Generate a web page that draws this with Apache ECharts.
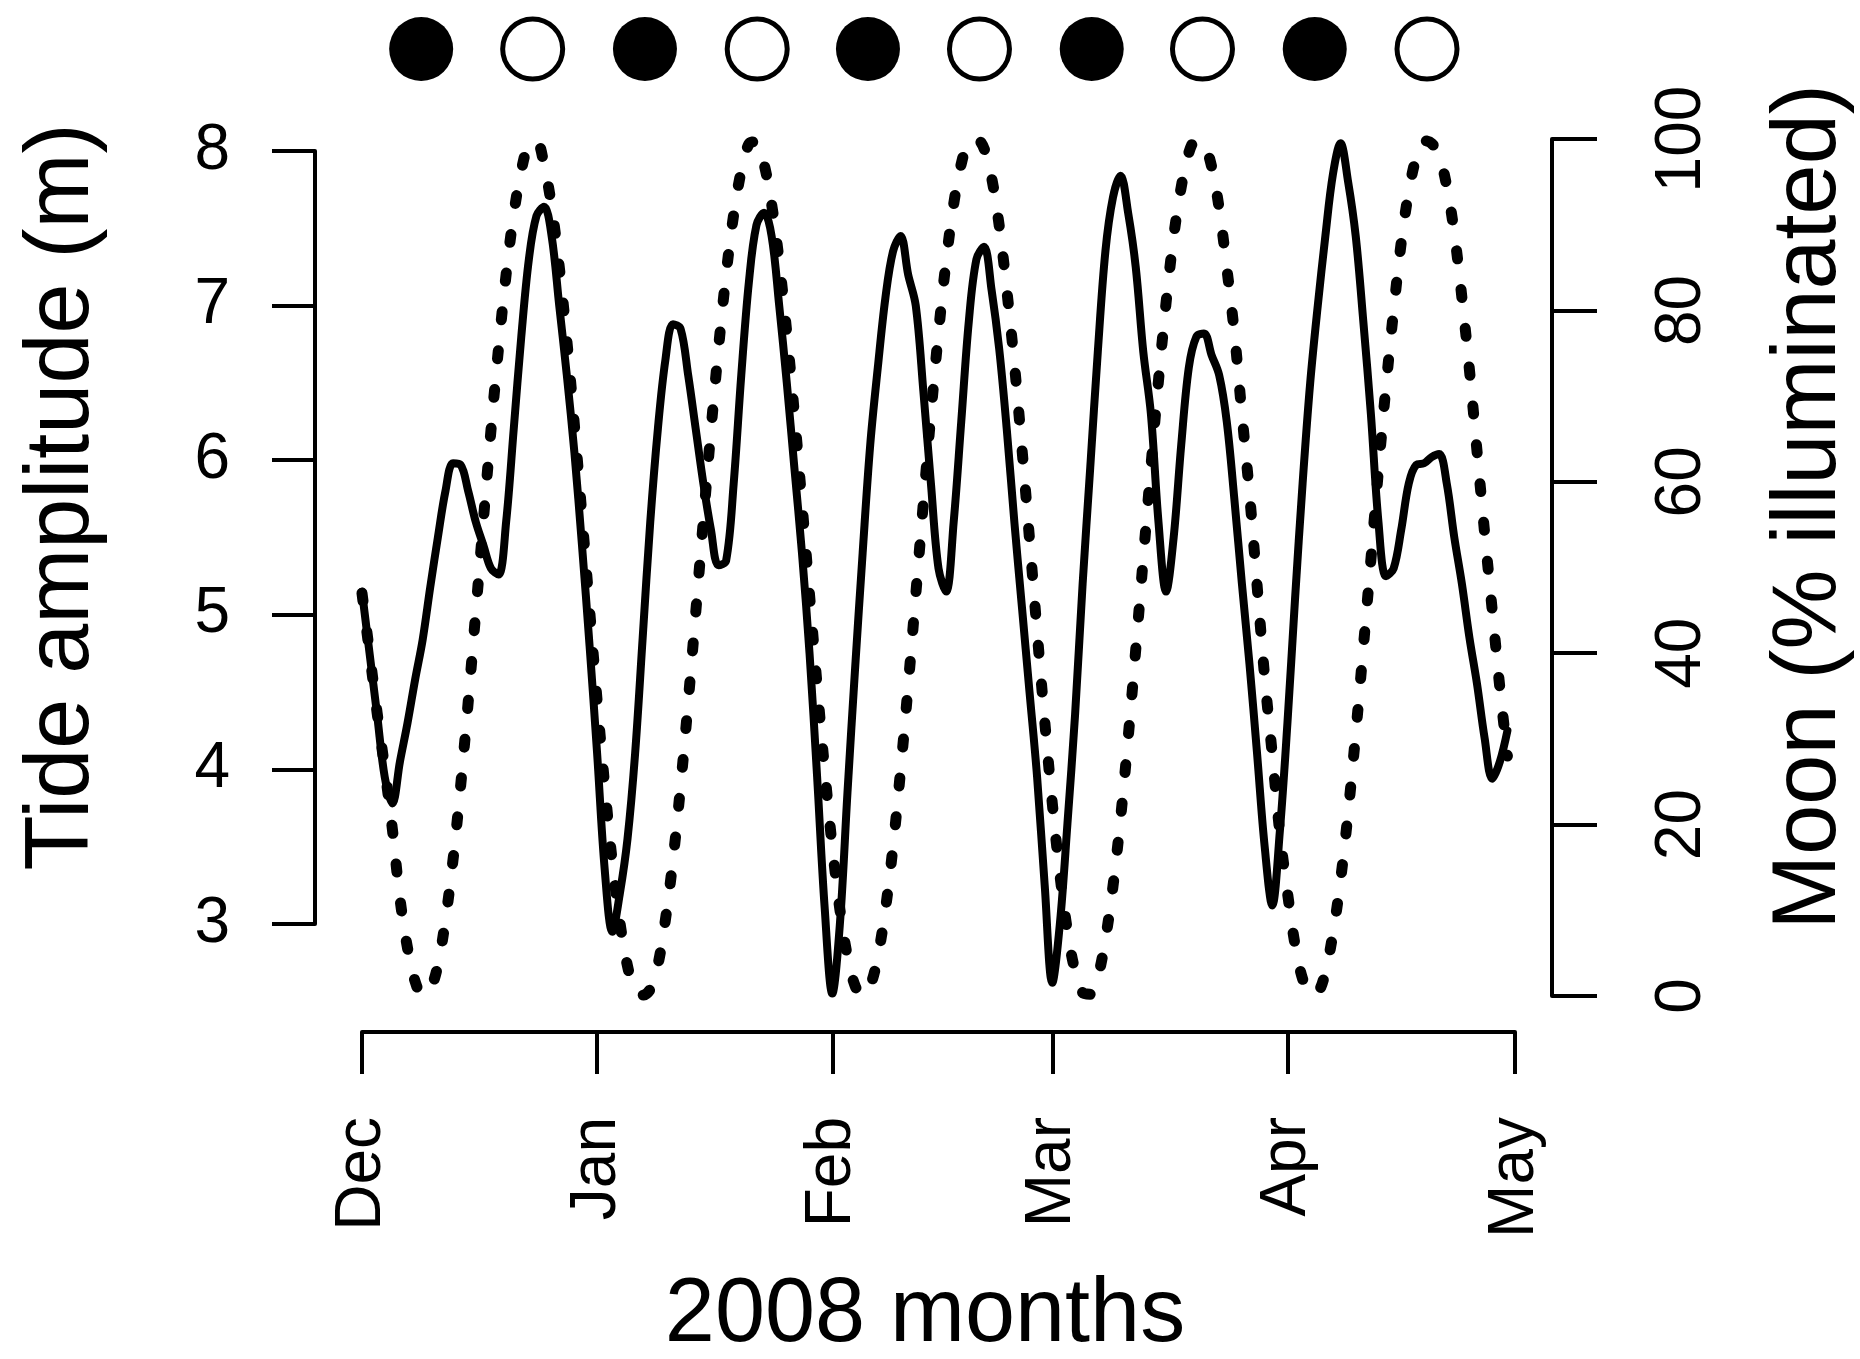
<!DOCTYPE html>
<html>
<head>
<meta charset="utf-8">
<title>Tide amplitude and moon</title>
<script src="https://cdn.jsdelivr.net/npm/echarts@6.0.0/dist/echarts.min.js"></script>
<style>
  html, body { margin: 0; padding: 0; background: #fff; }
  #chart { width: 1860px; height: 1359px; }
</style>
</head>
<body>
<div id="chart"></div>
<script>
// days counted from 1 Dec 2007 (day 0) to 30 Apr 2008 (day 151)
var monthStarts = [0, 31, 62, 91, 122, 152];
var monthNames = ['Dec', 'Jan', 'Feb', 'Mar', 'Apr', 'May'];

// tide amplitude (m), one value per day
var tide = [
  5.15, 4.75, 4.35, 3.95, 3.78, 4.05, 4.3, 4.58, 4.84, 5.18,
  5.5, 5.8, 5.98, 5.97, 5.8, 5.6, 5.45, 5.3, 5.26, 5.6,
  6.2, 6.8, 7.3, 7.58, 7.64, 7.45, 7.0, 6.55, 6.05, 5.45,
  4.8, 4.1, 3.35, 2.95, 3.2, 3.55, 4.1, 4.85, 5.6, 6.2,
  6.65, 6.88, 6.85, 6.55, 6.2, 5.85, 5.55, 5.32, 5.35, 5.85,
  6.55, 7.15, 7.52, 7.6, 7.45, 7.0, 6.5, 5.95, 5.4, 4.75,
  3.95, 3.1, 2.55, 3.0, 3.85, 4.65, 5.4, 6.1, 6.6, 7.05,
  7.35, 7.45, 7.2, 7.0, 6.45, 5.85, 5.3, 5.15, 5.6, 6.25,
  6.9, 7.3, 7.38, 7.1, 6.72, 6.2, 5.6, 5.05, 4.5, 3.95,
  3.25, 2.62, 3.0, 3.65, 4.35, 5.2, 5.95, 6.7, 7.35, 7.7,
  7.84, 7.6, 7.25, 6.7, 6.3, 5.6, 5.15, 5.5, 6.1, 6.6,
  6.8, 6.82, 6.68, 6.55, 6.25, 5.75, 5.2, 4.68, 4.1, 3.5,
  3.12, 3.6, 4.3, 5.1, 5.85, 6.5, 7.0, 7.45, 7.85, 8.05,
  7.8, 7.45, 6.9, 6.3, 5.6, 5.25, 5.3, 5.55, 5.85, 5.97,
  5.98, 6.02, 6.04, 5.85, 5.5, 5.2, 4.85, 4.55, 4.2, 3.94,
  4.05, 4.25
];

// moon, % illuminated, one value per day
var moon = [
  47, 40, 33, 26.5, 19.5, 11.4, 5.6, 1.7, 0.1, 0.8,
  3.6, 8.9, 15.9, 24.5, 34.3, 44.8, 55.5, 66, 75.6, 84.2,
  91.2, 96.3, 99.4, 99.7, 97.0, 92.1, 85.1, 76.5, 66.6, 56,
  45.1, 34.4, 24.5, 15.6, 8.6, 3.5, 0.6, 0.1, 0.8, 3.6,
  8.9, 15.9, 24.5, 34.3, 44.8, 55.5, 66, 75.6, 84.2, 91.2,
  96.3, 99.4, 99.7, 97.1, 92.4, 85.7, 77.4, 67.9, 57.5, 46.8,
  36.2, 26.3, 17.4, 10.1, 4.6, 1.2, 0, 1.2, 4.6, 10.1,
  17.4, 26.3, 36.2, 46.8, 57.5, 67.9, 77.4, 85.7, 92.4, 97.1,
  99.7, 100, 98.9, 95.5, 89.9, 82.4, 73.8, 63.9, 53.3, 42.5,
  32.1, 22.5, 14.2, 7.6, 2.9, 0.4, 0.2, 2.2, 6.6, 12.8,
  20.7, 30.1, 40.4, 51.1, 61.7, 71.8, 80.9, 88.6, 94.4, 98.4,
  99.9, 99.4, 96.8, 91.9, 85.0, 77.4, 67.9, 58.6, 47.9, 37.2,
  28.2, 19.0, 12.1, 6.0, 2.0, 0.2, 0.4, 2.8, 7.3, 13.5,
  21.4, 30.6, 40.6, 50.9, 61.4, 71.2, 80, 87.9, 93.9, 97.9,
  99.8, 99.5, 98, 94.5, 89, 81.5, 73, 63.5, 54, 45,
  36, 28
];

// moon phase markers (day of the filled / open circles)
var newMoonDays = [7.8, 37.3, 66.7, 96.2, 125.6];
var fullMoonDays = [22.5, 52.1, 81.4, 110.8, 140.4];

var FONT = '"Liberation Sans", Arial, Helvetica, sans-serif';

function byDay(arr) {
  var out = [];
  for (var i = 0; i < arr.length; i++) out.push([i, arr[i]]);
  return out;
}
function onRow(days) {
  var out = [];
  for (var i = 0; i < days.length; i++) out.push([days[i], 0.5]);
  return out;
}

var axisLine = { show: true, onZero: false, lineStyle: { color: '#000', width: 4 } };

var chart = echarts.init(document.getElementById('chart'), null, { renderer: 'canvas' });

var option = {
  backgroundColor: '#fff',
  animation: false,
  grid: [
    { left: 362, width: 1153, top: 151, height: 773 },   // tide axis (3..8)
    { left: 362, width: 1153, top: 139, height: 857 },   // moon axis (0..100)
    { left: 362, width: 1153, top: 19, height: 60 }      // moon phase row
  ],
  xAxis: [
    { type: 'value', gridIndex: 0, min: 0, max: 152, show: false },
    {
      type: 'value', gridIndex: 1, min: 0, max: 152,
      position: 'bottom', offset: 36,
      axisLine: axisLine,
      axisTick: { show: true, length: 42, lineStyle: { color: '#000', width: 4 }, customValues: monthStarts },
      axisLabel: {
        customValues: monthStarts,
        rotate: 90, margin: 85, fontSize: 64, color: '#000', fontFamily: FONT,
        formatter: function (v) { return monthNames[monthStarts.indexOf(v)]; }
      },
      splitLine: { show: false }
    },
    { type: 'value', gridIndex: 2, min: 0, max: 152, show: false }
  ],
  yAxis: [
    {
      type: 'value', gridIndex: 0, min: 3, max: 8, interval: 1,
      position: 'left', offset: 47,
      axisLine: axisLine,
      axisTick: { show: true, length: 43, lineStyle: { color: '#000', width: 4 } },
      axisLabel: { margin: 85, fontSize: 64, color: '#000', fontFamily: FONT },
      splitLine: { show: false }
    },
    {
      type: 'value', gridIndex: 1, min: 0, max: 100, interval: 20,
      position: 'right', offset: 37,
      axisLine: axisLine,
      axisTick: { show: true, length: 45, lineStyle: { color: '#000', width: 4 } },
      axisLabel: { rotate: 90, margin: 98, fontSize: 64, color: '#000', fontFamily: FONT },
      splitLine: { show: false }
    },
    { type: 'value', gridIndex: 2, min: 0, max: 1, show: false }
  ],
  series: [
    {
      name: 'Tide amplitude', type: 'line',
      xAxisIndex: 0, yAxisIndex: 0,
      data: byDay(tide),
      showSymbol: false, clip: false, smooth: 0.35,
      lineStyle: { color: '#000', width: 8, join: 'round', cap: 'round' }
    },
    {
      name: 'Moon illuminated', type: 'line',
      xAxisIndex: 1, yAxisIndex: 1,
      data: byDay(moon),
      showSymbol: false, clip: false, smooth: 0.35,
      lineStyle: { color: '#000', width: 11, type: [8, 31], cap: 'round', join: 'round' }
    },
    {
      name: 'New moon', type: 'scatter',
      xAxisIndex: 2, yAxisIndex: 2,
      data: onRow(newMoonDays),
      symbol: 'circle', symbolSize: 64,
      itemStyle: { color: '#000', opacity: 1 }
    },
    {
      name: 'Full moon', type: 'scatter',
      xAxisIndex: 2, yAxisIndex: 2,
      data: onRow(fullMoonDays),
      symbol: 'circle', symbolSize: 60,
      itemStyle: { color: '#fff', borderColor: '#000', borderWidth: 5, opacity: 1 }
    }
  ],
  graphic: [
    {
      type: 'text', x: 63, y: 497, rotation: Math.PI / 2,
      style: {
        text: 'Tide amplitude (m)', fontSize: 90, fontFamily: FONT, fill: '#000',
        align: 'center', verticalAlign: 'middle', textAlign: 'center', textVerticalAlign: 'middle'
      }
    },
    {
      type: 'text', x: 1810, y: 507, rotation: Math.PI / 2,
      style: {
        text: 'Moon (% illuminated)', fontSize: 90, fontFamily: FONT, fill: '#000',
        align: 'center', verticalAlign: 'middle', textAlign: 'center', textVerticalAlign: 'middle'
      }
    },
    {
      type: 'text', x: 925, y: 1316,
      style: {
        text: '2008 months', fontSize: 90, fontFamily: FONT, fill: '#000',
        align: 'center', verticalAlign: 'middle', textAlign: 'center', textVerticalAlign: 'middle'
      }
    }
  ]
};

chart.setOption(option);
</script>
</body>
</html>
